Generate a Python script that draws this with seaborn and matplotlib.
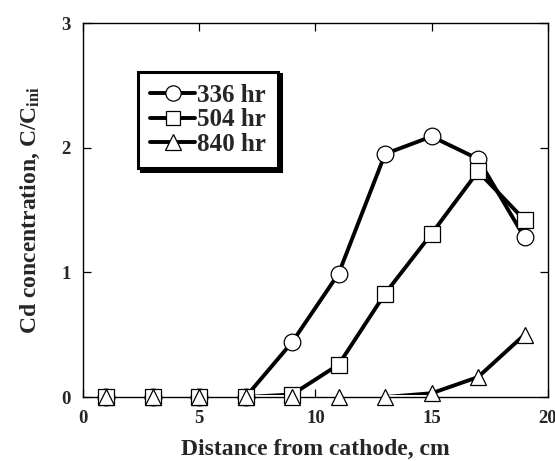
import matplotlib
matplotlib.use("Agg")
import matplotlib.pyplot as plt
from matplotlib.lines import Line2D
from matplotlib.patches import Rectangle
import seaborn as sns
import pandas as pd

# Distance from cathode (cm) and normalised Cd concentration C/C_ini
distance = [1, 3, 5, 7, 9, 11, 13, 15, 17, 19]
conc_336 = [0.0, 0.0, 0.0, 0.0, 0.44, 0.99, 1.95, 2.09, 1.91, 1.28]
conc_504 = [0.0, 0.0, 0.0, 0.0, 0.02, 0.26, 0.83, 1.31, 1.81, 1.42]
conc_840 = [0.0, 0.0, 0.0, 0.0, 0.0, 0.0, 0.0, 0.03, 0.16, 0.50]
series_names = ["336 hr", "504 hr", "840 hr"]
series_markers = ["o", "s", "^"]

x_ticks = [0, 5, 10, 15, 20]
y_ticks = [0, 1, 2, 3]

sns.set_theme(style="ticks")
plt.rcParams["font.family"] = ["Liberation Serif", "DejaVu Serif"]
plt.rcParams["font.weight"] = "bold"
plt.rcParams["mathtext.fontset"] = "custom"
plt.rcParams["mathtext.rm"] = "Liberation Serif:bold"
plt.rcParams["mathtext.bf"] = "Liberation Serif:bold"
plt.rcParams["mathtext.it"] = "Liberation Serif:bold"

frames = []
for name, vals in zip(series_names, [conc_336, conc_504, conc_840]):
    frames.append(pd.DataFrame({"distance": distance, "conc": vals, "series": name}))
df = pd.concat(frames, ignore_index=True)

fig = plt.figure(figsize=(5.55, 4.61), dpi=100)
ax = fig.add_axes([0.1495, 0.1388, 0.8375, 0.8112])

LW = 2.8
marker_sizes = {"o": 12, "s": 11.5, "^": 12}
# lines are kept off the bottom frame so runs along zero stay hidden
line_clip = Rectangle((0, 0.0055), 1, 1, transform=ax.transAxes,
                      facecolor="none", edgecolor="none")
handles = []
for i, (name, mk) in enumerate(zip(series_names, series_markers)):
    sub = df[df["series"] == name]
    n_before = len(ax.lines)
    sns.lineplot(data=sub, x="distance", y="conc", ax=ax, color="black",
                 linewidth=LW, legend=False, zorder=2 + i)
    for ln in ax.lines[n_before:]:
        ln.set_clip_path(line_clip)
    # open markers, allowed to overlap the axis frame
    sns.lineplot(data=sub, x="distance", y="conc", ax=ax, color="black",
                 linestyle="none", marker=mk, markersize=marker_sizes[mk],
                 markerfacecolor="white", markeredgecolor="black",
                 markeredgewidth=0.9, legend=False, clip_on=False, zorder=2.5 + i)
    handles.append(Line2D([], [], color="black", linewidth=LW, marker=mk,
                          markersize=marker_sizes[mk] - 1, markerfacecolor="white",
                          markeredgecolor="black", markeredgewidth=0.9))

ax.set_xlim(0, 20)
ax.set_ylim(0, 3)
ax.set_xticks(x_ticks)
ax.set_yticks(y_ticks)
ax.tick_params(direction="in", length=6, width=0.9, top=True, right=True,
               labelsize=13.5, color="black")
ax.tick_params(axis="x", pad=9)
ax.tick_params(axis="y", pad=9)
for lbl in ax.get_xticklabels() + ax.get_yticklabels():
    lbl.set_fontweight("bold")
for s in ax.spines.values():
    s.set_linewidth(1.0)
    s.set_color("black")
    s.set_visible(True)
    s.set_zorder(1)

ax.set_xlabel("Distance from cathode, cm", fontsize=17, fontweight="bold", labelpad=9)
ax.set_ylabel("Cd concentration, C/C$_\\mathregular{ini}$", fontsize=17,
              fontweight="bold", labelpad=14)

leg = ax.legend(handles, series_names, loc="upper left",
                bbox_to_anchor=(0.118, 0.87), frameon=True,
                fancybox=False, edgecolor="black", fontsize=18, handlelength=1.8,
                handletextpad=0.05, borderpad=0.5, labelspacing=0.05,
                borderaxespad=0.0,
                shadow={"color": "black", "alpha": 1.0})
leg.get_frame().set_linewidth(2.2)
leg.set_zorder(10)
for t in leg.get_texts():
    t.set_fontweight("bold")

fig.savefig("out.png", dpi=100)
